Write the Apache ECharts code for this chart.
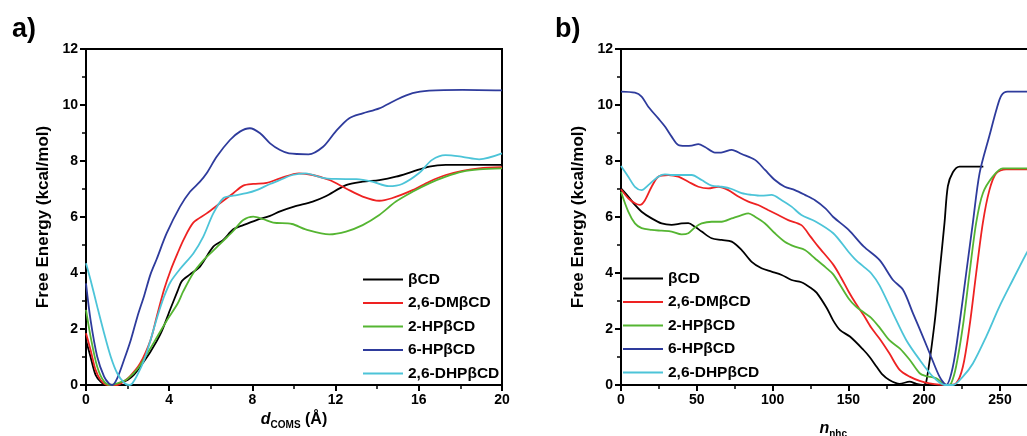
<!DOCTYPE html>
<html>
<head>
<meta charset="utf-8">
<script src="https://cdn.jsdelivr.net/npm/echarts@6/dist/echarts.min.js"></script>
<style>
  html, body { margin: 0; padding: 0; background: #fff; }
  #chart { width: 1027px; height: 436px; }
</style>
</head>
<body>
<div id="chart"></div>
<script>
// ---------- DATA ----------
const seriesNames = ['βCD', '2,6-DMβCD', '2-HPβCD', '6-HPβCD', '2,6-DHPβCD'];

// Panel a) : x = d_COMS (Å), y = Free Energy (kcal/mol)
const a_bCD = [[0,1.6],[0.22,1.0],[0.46,0.36],[0.7,0.12],[0.95,0],[1.35,0],[1.67,0.08],[2.0,0.18],[2.3,0.36],[2.6,0.65],[3.1,1.19],[3.6,1.85],[4.07,2.74],[4.4,3.35],[4.6,3.7],[5.0,3.95],[5.48,4.23],[6.12,4.94],[6.6,5.18],[7.08,5.56],[7.56,5.71],[8.2,5.89],[8.85,6.04],[9.33,6.2],[10.0,6.37],[10.9,6.55],[11.5,6.73],[12.5,7.14],[13.3,7.26],[14.1,7.32],[14.9,7.44],[15.7,7.62],[16.5,7.8],[17.3,7.86],[20,7.86]];
const a_DM = [[0,1.85],[0.22,1.25],[0.46,0.54],[0.7,0.18],[1.03,0],[1.5,0],[1.8,0.12],[2.1,0.3],[2.6,0.77],[3.1,1.6],[3.4,2.44],[3.75,3.4],[4.07,4.1],[4.4,4.7],[4.7,5.2],[5.16,5.8],[5.8,6.13],[6.44,6.49],[7.08,6.85],[7.56,7.12],[8.04,7.18],[8.69,7.22],[9.33,7.38],[10.24,7.56],[10.9,7.5],[11.7,7.32],[12.5,7.02],[13.3,6.73],[14.1,6.58],[14.7,6.67],[15.7,6.96],[16.5,7.26],[17.3,7.5],[18.1,7.65],[18.9,7.74],[20,7.78]];
const a_2HP = [[0,2.68],[0.22,1.73],[0.54,0.65],[0.87,0.12],[1.2,0],[1.67,0.1],[2.0,0.22],[2.5,0.6],[2.95,1.13],[3.43,1.73],[3.9,2.32],[4.4,2.9],[4.68,3.35],[5.16,4.0],[5.64,4.45],[6.12,4.8],[6.6,5.15],[7.08,5.5],[7.56,5.89],[8.04,6.01],[8.53,5.92],[9.0,5.8],[9.9,5.75],[10.56,5.56],[11.7,5.38],[12.5,5.48],[13.3,5.71],[14.1,6.07],[14.9,6.55],[15.7,6.9],[16.5,7.2],[17.3,7.44],[18.1,7.62],[18.9,7.7],[20,7.74]];
const a_6HP = [[0,3.63],[0.22,2.32],[0.54,1.01],[0.87,0.3],[1.1,0.06],[1.27,0],[1.5,0.24],[1.83,0.9],[2.15,1.6],[2.47,2.44],[2.8,3.2],[3.1,3.95],[3.4,4.5],[3.88,5.42],[4.52,6.37],[5.0,6.9],[5.48,7.26],[5.8,7.56],[6.28,8.15],[6.92,8.75],[7.4,9.05],[7.88,9.17],[8.37,8.99],[8.85,8.63],[9.33,8.39],[9.76,8.27],[10.7,8.24],[11.4,8.51],[12.0,9.05],[12.64,9.52],[13.3,9.7],[14.1,9.88],[14.9,10.18],[15.7,10.42],[16.5,10.51],[18.1,10.54],[20,10.52]];
const a_DHP = [[0,4.35],[0.22,3.75],[0.54,2.8],[0.87,1.85],[1.19,1.01],[1.5,0.42],[1.83,0.08],[2.07,0],[2.23,0.06],[2.47,0.36],[2.8,0.9],[3.1,1.6],[3.43,2.44],[3.75,3.15],[4.07,3.69],[4.55,4.17],[5.16,4.7],[5.64,5.3],[6.12,6.13],[6.6,6.67],[7.08,6.76],[7.72,6.85],[8.2,6.96],[8.85,7.18],[9.33,7.32],[9.92,7.5],[10.56,7.56],[11.36,7.4],[12,7.36],[13,7.35],[13.76,7.26],[14.56,7.1],[15.2,7.18],[16,7.56],[16.64,8.04],[17.28,8.21],[18.1,8.15],[18.9,8.06],[20,8.27]];

// Panel b) : x = n_nhc, y = Free Energy (kcal/mol)
const b_bCD = [[0,7.02],[4.8,6.73],[9.2,6.43],[13.6,6.19],[20.2,5.95],[26.8,5.77],[33.4,5.72],[40,5.77],[44.4,5.78],[48.8,5.65],[53.2,5.48],[59.8,5.24],[66.4,5.18],[73,5.12],[79.6,4.82],[86.2,4.4],[92.7,4.17],[99.3,4.05],[106,3.93],[112.5,3.75],[119,3.67],[125.7,3.45],[129,3.3],[135.7,2.75],[140,2.3],[144.5,1.96],[151,1.73],[160,1.25],[164,1.0],[168.6,0.65],[172,0.4],[177,0.18],[183.8,0.04],[190.4,0.12],[194.8,0.04],[199,0],[201.3,0.1],[206.8,2.2],[210.1,4.0],[213.4,5.8],[215.6,7.1],[218.9,7.6],[223.3,7.8],[239,7.8]];
const b_DM = [[0,6.99],[4.8,6.67],[9.2,6.49],[12.5,6.43],[15.8,6.6],[20.2,7.08],[24.6,7.44],[31.2,7.5],[37.8,7.44],[44.4,7.26],[51,7.08],[57.6,7.02],[64.2,7.08],[70.8,6.96],[77.4,6.73],[84,6.55],[90.5,6.43],[97,6.25],[103.7,6.07],[110.3,5.89],[119,5.71],[125,5.3],[130,4.95],[140,4.3],[145,3.85],[150,3.35],[155,2.9],[160,2.5],[165,2.05],[170.6,1.65],[177,1.13],[183.8,0.54],[190.4,0.3],[197,0.15],[203.5,0.06],[214.5,0],[221,0.06],[225.5,0.65],[229.9,2.1],[234.3,4.0],[238.7,5.8],[243,6.96],[247.4,7.56],[254,7.7],[290,7.7]];
const b_2HP = [[0,6.9],[4.8,6.19],[9.2,5.77],[13.6,5.6],[20.2,5.54],[26.8,5.51],[33.4,5.48],[40,5.38],[44.4,5.42],[48.8,5.63],[53.2,5.77],[59.8,5.83],[66.4,5.83],[73,5.95],[79.6,6.07],[84,6.13],[88.4,6.01],[95,5.77],[101.5,5.42],[108,5.12],[114.7,4.94],[121.3,4.82],[128,4.52],[135,4.2],[140,3.95],[150,3.1],[155,2.8],[160,2.6],[165,2.4],[170.6,2.05],[177,1.6],[184,1.3],[190.4,0.9],[197,0.42],[201.3,0.32],[208,0.24],[212.3,0.06],[215.6,0],[217.8,0.06],[221,0.65],[225.5,2.1],[229.9,4.0],[234.3,5.8],[238.7,6.85],[245.2,7.44],[251.8,7.74],[290,7.74]];
const b_6HP = [[0,10.48],[9.2,10.44],[13.6,10.3],[18,9.94],[24.6,9.52],[29,9.23],[33.4,8.87],[37.8,8.57],[42.2,8.54],[46.6,8.55],[51,8.6],[55.4,8.5],[62,8.3],[66,8.3],[73,8.4],[79.6,8.25],[88.4,8.04],[95,7.68],[101.5,7.32],[108,7.08],[114.7,6.96],[121.3,6.79],[128,6.6],[135,6.3],[140,6.0],[150,5.55],[160,4.95],[170.6,4.46],[179.4,3.75],[186,3.4],[192.6,2.56],[199.1,1.73],[204.6,1.0],[210.1,0.3],[214.5,0],[218.9,0.65],[223.3,2.2],[227.7,4.0],[232.1,5.8],[236.5,7.56],[243,8.9],[248,9.9],[251,10.35],[255,10.48],[290,10.48]];
const b_DHP = [[0,7.82],[4.8,7.44],[9.2,7.08],[13.6,6.96],[18,7.14],[24.6,7.44],[29,7.52],[33.4,7.5],[40,7.5],[46.6,7.5],[53.2,7.32],[59.8,7.12],[66.4,7.08],[73,7.0],[79.6,6.85],[86.2,6.79],[92.7,6.76],[99.3,6.79],[106,6.6],[112.5,6.37],[119,6.07],[128,5.85],[140,5.42],[150,4.76],[155,4.46],[160,4.23],[165,3.99],[170.6,3.55],[179.4,2.56],[188.2,1.6],[197,0.9],[205.7,0.3],[213.4,0],[218.9,0],[225.5,0.3],[232.1,0.77],[240.9,1.73],[249.6,2.8],[258.4,3.75],[267.4,4.7],[272,5.15]];

const xTicksA = { min: 0, max: 20, interval: 4 };
const xTicksB = { min: 0, max: 280, interval: 50 };
const yTicks = { min: 0, max: 12, interval: 2 };

// ---------- STYLE ----------
const colors = ['#000000', '#ee2222', '#55b532', '#2e3b9c', '#4cc4d8'];
const FONT = 'Liberation Sans, Arial, Helvetica, sans-serif';
const panelA = [a_bCD, a_DM, a_2HP, a_6HP, a_DHP];
const panelB = [b_bCD, b_DM, b_2HP, b_6HP, b_DHP];

function axisStyle() {
  return {
    axisLine: { show: true, onZero: false, lineStyle: { color: '#000', width: 2 } },
    axisTick: { show: true, inside: false, length: 6, lineStyle: { color: '#000', width: 2 } },
    minorTick: { show: true, splitNumber: 2, length: 4, lineStyle: { color: '#000', width: 1.5 } },
    splitLine: { show: false },
    minorSplitLine: { show: false },
    axisLabel: { color: '#000', fontFamily: FONT, fontWeight: 'bold', fontSize: 14 }
  };
}
function yAxisCfg(gi) {
  return Object.assign(axisStyle(), {
    type: 'value', gridIndex: gi, min: yTicks.min, max: yTicks.max, interval: yTicks.interval,
    name: 'Free Energy (kcal/mol)', nameLocation: 'middle', nameGap: 34,
    nameTextStyle: { color: '#000', fontFamily: FONT, fontWeight: 'bold', fontSize: 17 }
  });
}
const richName = {
  i: { fontFamily: FONT, fontStyle: 'italic', fontWeight: 'bold', fontSize: 16, color: '#000', lineHeight: 20 },
  s: { fontFamily: FONT, fontWeight: 'bold', fontSize: 10, color: '#000', lineHeight: 10, verticalAlign: 'bottom' },
  n: { fontFamily: FONT, fontWeight: 'bold', fontSize: 16, color: '#000', lineHeight: 20 }
};

const series = [];
panelA.forEach((d, i) => series.push({
  name: seriesNames[i], type: 'line', xAxisIndex: 0, yAxisIndex: 0, data: d,
  showSymbol: false, symbol: 'none', smooth: 0.3, clip: true,
  lineStyle: { color: colors[i], width: 1.8 }, itemStyle: { color: colors[i] }, z: 3
}));
panelB.forEach((d, i) => series.push({
  name: seriesNames[i], type: 'line', xAxisIndex: 1, yAxisIndex: 1, data: d,
  showSymbol: false, symbol: 'none', smooth: 0.3, clip: true,
  lineStyle: { color: colors[i], width: 1.8 }, itemStyle: { color: colors[i] }, z: 3
}));

const legendBase = {
  orient: 'vertical', icon: 'rect', itemWidth: 40, itemHeight: 2, itemGap: 6.5, padding: 0,
  data: seriesNames, selectedMode: false,
  textStyle: { color: '#000', fontFamily: FONT, fontWeight: 'bold', fontSize: 15.5, lineHeight: 17 }
};

const option = {
  backgroundColor: '#ffffff',
  animation: false,
  color: colors,
  title: [
    { text: 'a)', left: 7, top: 11, textStyle: { fontFamily: FONT, fontWeight: 'bold', fontSize: 27, color: '#000' } },
    { text: 'b)', left: 550, top: 11, textStyle: { fontFamily: FONT, fontWeight: 'bold', fontSize: 27, color: '#000' } }
  ],
  grid: [
    { left: 86, top: 49, width: 416, height: 336, show: true, borderColor: '#000', borderWidth: 2, backgroundColor: 'transparent', outerBoundsMode: 'none', containLabel: false },
    { left: 621, top: 49, width: 424.5, height: 336, show: true, borderColor: '#000', borderWidth: 2, backgroundColor: 'transparent', outerBoundsMode: 'none', containLabel: false }
  ],
  xAxis: [
    Object.assign(axisStyle(), {
      type: 'value', gridIndex: 0, min: xTicksA.min, max: xTicksA.max, interval: xTicksA.interval,
      name: '{i|d}{s|COMS}{n| (Å)}', nameLocation: 'middle', nameGap: 22,
      nameTextStyle: { rich: richName }
    }),
    Object.assign(axisStyle(), {
      type: 'value', gridIndex: 1, min: xTicksB.min, max: xTicksB.max, interval: xTicksB.interval,
      name: '{i|n}{s|nhc}', nameLocation: 'middle', nameGap: 34,
      nameTextStyle: { rich: richName }
    })
  ],
  yAxis: [yAxisCfg(0), yAxisCfg(1)],
  legend: [
    Object.assign({}, legendBase, { left: 363, top: 271 }),
    Object.assign({}, legendBase, { left: 623, top: 270 })
  ],
  series: series
};

const chart = echarts.init(document.getElementById('chart'), null, { renderer: 'canvas' });
chart.setOption(option);
</script>
</body>
</html>
